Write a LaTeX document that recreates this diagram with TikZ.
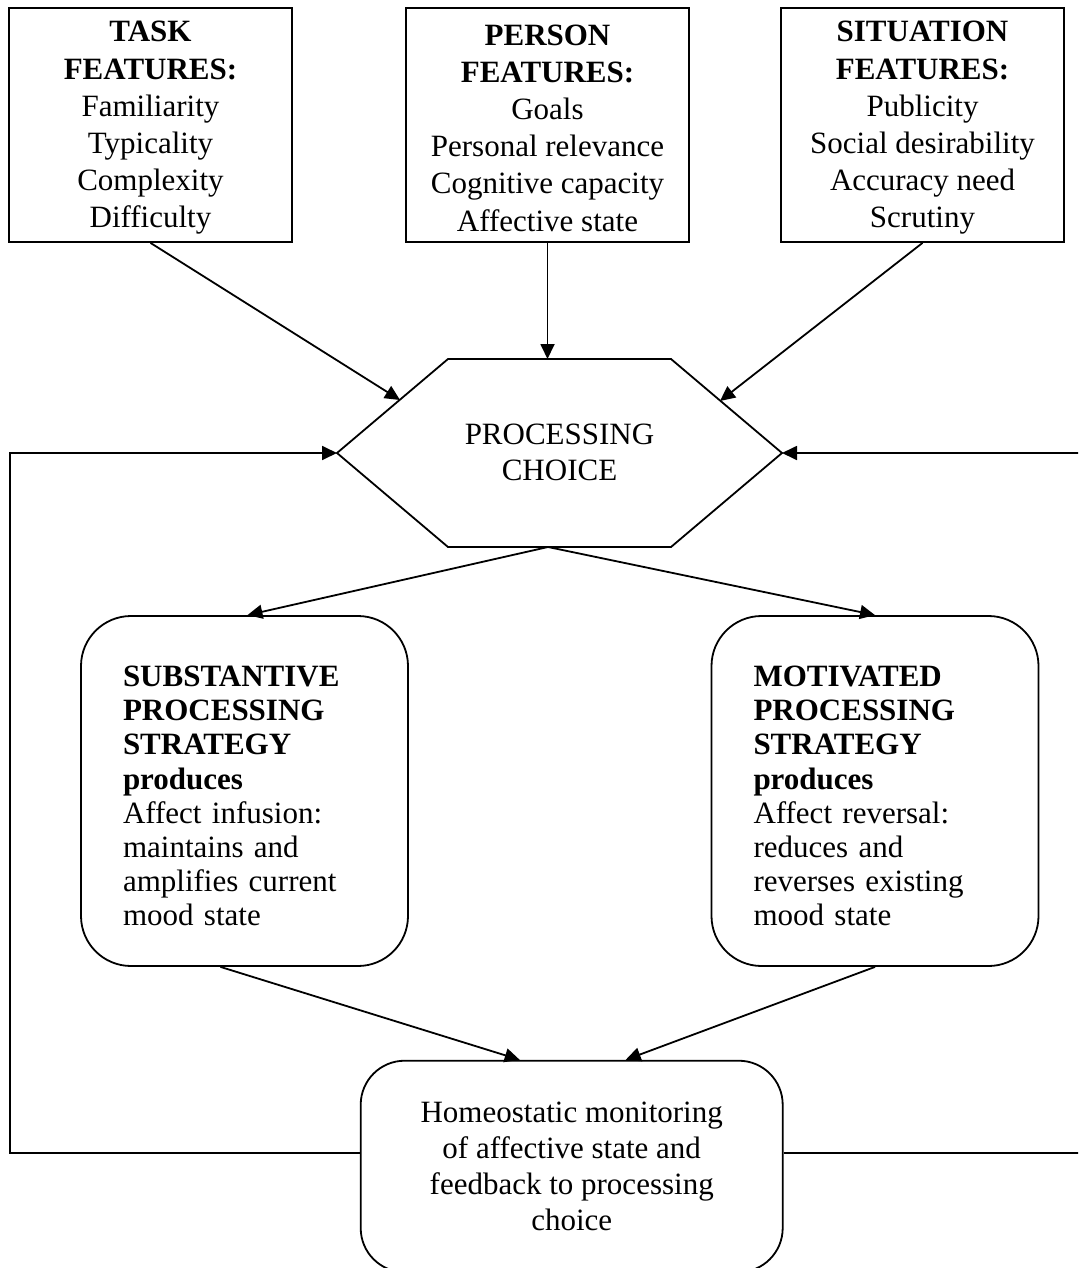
\documentclass[tikz,border=0pt]{standalone}
\usepackage{fontspec}
\setmainfont{Liberation Serif}
\usetikzlibrary{arrows.meta, positioning}

\newcommand{\toppad}[1]{\rule{0pt}{#1}}

\begin{document}
\begin{tikzpicture}[x = 0.5pt, y = -0.5pt, line width = 0.9pt,
		every node/.append style = {font=\fontsize{15.5}{18}\selectfont},
		featurebox/.style = {draw, align=center, minimum width=141.5pt, minimum height=117pt, inner sep=0pt, font=\fontsize{15.5}{18.6}\selectfont},
		strategybox/.style = {draw, rounded corners=25pt, align=left, text width=121.5pt, minimum width=163.5pt, minimum height=175pt, font=\fontsize{15.5}{17.1}\selectfont},
		feedbackbox/.style = {draw, rounded corners=22pt, align=center, minimum width=211pt, minimum height=105.7pt},
		flow/.style = {-{Triangle[length=7.5pt, width=7pt]}}]
	\useasboundingbox (0,0) rectangle (1078,1268);
	\clip (0,0) rectangle (1078,1268);

	\node[featurebox] (task) at (150.5,125) {\toppad{13.3pt}\textbf{TASK}\\\textbf{FEATURES:}\\Familiarity\\Typicality\\Complexity\\Difficulty};
	\node[featurebox] (person) at (547.5,125) {\toppad{13.3pt}\textbf{PERSON}\\\textbf{FEATURES:}\\Goals\\Personal relevance\\Cognitive capacity\\Affective state};
	\node[featurebox] (situation) at (922.5,125) {\toppad{13.3pt}\textbf{SITUATION}\\\textbf{FEATURES:}\\Publicity\\Social desirability\\Accuracy need\\Scrutiny};

	% processing choice hexagon
	\coordinate (hw) at (337,453);
	\coordinate (hnw) at (448,359);
	\coordinate (hne) at (671,359);
	\coordinate (he) at (782,453);
	\coordinate (hse) at (671,547);
	\coordinate (hsw) at (448,547);
	\coordinate (taskin) at (400,400);
	\coordinate (sitin) at (720,401);
	\coordinate (hout) at (548,547);
	\draw (hw) -- (hnw) -- (hne) -- (he) -- (hse) -- (hsw) -- cycle;
	\node[align=center] (choice) at (559.5,452) {PROCESSING\\CHOICE};

	\node[strategybox] (substantive) at (244.5,791) {\toppad{15.3pt}\textbf{SUBSTANTIVE}\\\textbf{PROCESSING}\\\textbf{STRATEGY}\\\textbf{produces}\\Affect infusion:\\maintains and\\amplifies current\\mood state};
	\node[strategybox] (motivated) at (875,791) {\toppad{15.3pt}\textbf{MOTIVATED}\\\textbf{PROCESSING}\\\textbf{STRATEGY}\\\textbf{produces}\\Affect reversal:\\reduces and\\reverses existing\\mood state};
	\node[feedbackbox] (monitor) at (571.7,1166.4) {Homeostatic monitoring\\of affective state and\\feedback to processing\\choice};

	\draw[flow] (task.south) -- (taskin);
	\draw[flow] (person.south) -- (person.south |- hnw);
	\draw[flow] (situation.south) -- (sitin);
	\draw[flow] (hout) -- ([xshift=1.5pt]substantive.north);
	\draw[flow] (hout) -- (motivated.north);
	\draw[flow] ([xshift=-12pt]substantive.south) -- ([xshift=-26pt]monitor.north);
	\draw[flow] (motivated.south) -- ([xshift=27pt]monitor.north);

	% feedback loops
	\coordinate (fbl) at (10,1153);
	\coordinate (fbr) at (1090,1153);
	\draw[flow] (monitor.west |- fbl) -- (fbl) -- (fbl |- hw) -- (hw);
	\draw[flow] (monitor.east |- fbr) -- (fbr) -- (fbr |- he) -- (he);
\end{tikzpicture}
\end{document}
